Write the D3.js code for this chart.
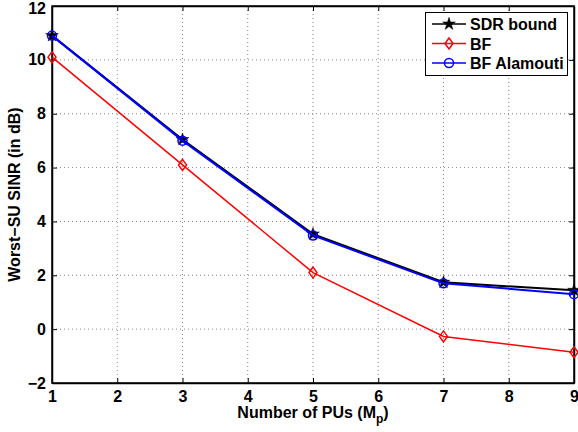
<!DOCTYPE html>
<html><head><meta charset="utf-8">
<script src="https://cdn.jsdelivr.net/npm/d3@7"></script>
<style>body{margin:0;background:#fff}svg{display:block}text{font-family:"Liberation Sans",Arial,sans-serif;font-weight:bold}</style>
</head><body>
<script>
const xValues = [1, 3, 5, 7, 9];
const sdrBound = [10.9, 7.04, 3.53, 1.74, 1.44];
const bf = [10.1, 6.1, 2.1, -0.27, -0.86];
const bfAlamouti = [10.9, 7.0, 3.48, 1.70, 1.30];
const xTicks = [1, 2, 3, 4, 5, 6, 7, 8, 9];
const yTicks = [-2, 0, 2, 4, 6, 8, 10, 12];
const seriesNames = ["SDR bound", "BF", "BF Alamouti"];
const seriesColors = ["#000000", "#ff0000", "#0000ff"];
const seriesMarkers = ["star", "diamond", "circle"];

const W = 578, H = 432;
const m = {l: 52, r: 4, t: 6, b: 49};
const FS = 16;
const svg = d3.select("body").append("svg").attr("width", W).attr("height", H);
const x = d3.scaleLinear().domain([1, 9]).range([m.l, W - m.r]);
const y = d3.scaleLinear().domain([-2, 12]).range([H - m.b, m.t]);

// grid
const g = svg.append("g");
g.selectAll(".gx").data(xTicks.slice(1, -1)).enter().append("line")
  .attr("x1", d => x(d)).attr("x2", d => x(d)).attr("y1", y(-2)).attr("y2", y(12))
  .attr("stroke", "#888").attr("stroke-width", 1).attr("stroke-dasharray", "1,3");
g.selectAll(".gy").data(yTicks.slice(1, -1)).enter().append("line")
  .attr("y1", d => y(d)).attr("y2", d => y(d)).attr("x1", x(1)).attr("x2", x(9))
  .attr("stroke", "#888").attr("stroke-width", 1).attr("stroke-dasharray", "1,3");

// axes
const tl = 5;
const ax = svg.append("g").attr("transform", `translate(0,${y(-2)})`)
  .call(d3.axisBottom(x).tickValues(xTicks).tickSizeInner(-tl).tickSizeOuter(0).tickPadding(8));
const axTop = svg.append("g").attr("transform", `translate(0,${y(12)})`)
  .call(d3.axisTop(x).tickValues(xTicks).tickSizeInner(-tl).tickSizeOuter(0).tickFormat(""));
const ay = svg.append("g").attr("transform", `translate(${x(1)},0)`)
  .call(d3.axisLeft(y).tickValues(yTicks).tickSizeInner(-tl).tickSizeOuter(0).tickPadding(6)
    .tickFormat(d => d < 0 ? "\u2212" + Math.abs(d) : d));
const ayR = svg.append("g").attr("transform", `translate(${x(9)},0)`)
  .call(d3.axisRight(y).tickValues(yTicks).tickSizeInner(-tl).tickSizeOuter(0).tickFormat(""));
[ax, axTop, ay, ayR].forEach(a => {
  a.selectAll("path").attr("stroke", "#000").attr("stroke-width", 1.5);
  a.selectAll("line").attr("stroke", "#000").attr("stroke-width", 1);
  a.selectAll("text").attr("font-size", FS).attr("fill", "#000")
    .style("font-family", "'Liberation Sans', Arial, sans-serif").style("font-weight", "bold");
});
ay.selectAll("text").filter(d => d === 12).attr("dy", "0.45em");
svg.append("rect").attr("x", x(1)).attr("y", y(12)).attr("width", x(9) - x(1)).attr("height", y(-2) - y(12))
  .attr("fill", "none").attr("stroke", "#000").attr("stroke-width", 1.5);

// markers
function drawMarker(sel, type, color, cx, cy) {
  if (type === "star") {
    sel.append("path").attr("d", d3.symbol().type(d3.symbolStar).size(50)())
      .attr("transform", `translate(${cx},${cy})`).attr("fill", color).attr("stroke", color).attr("stroke-width", 0.5);
  } else if (type === "diamond") {
    sel.append("path").attr("d", `M0,-5.5L4,0L0,5.5L-4,0Z`)
      .attr("transform", `translate(${cx},${cy})`).attr("fill", "none").attr("stroke", color).attr("stroke-width", 1.5);
  } else {
    sel.append("circle").attr("cx", cx).attr("cy", cy).attr("r", 4.5)
      .attr("fill", "none").attr("stroke", color).attr("stroke-width", 1.5);
  }
}

const series = [sdrBound, bf, bfAlamouti];
const widths = [2, 1.5, 2];
const line = d3.line().x((d, i) => x(xValues[i])).y(d => y(d));
series.forEach((s, k) => {
  const sg = svg.append("g");
  sg.append("path").datum(s).attr("d", line).attr("fill", "none")
    .attr("stroke", seriesColors[k]).attr("stroke-width", widths[k]);
  s.forEach((v, i) => drawMarker(sg, seriesMarkers[k], seriesColors[k], x(xValues[i]), y(v)));
});

// legend
const lg = svg.append("g");
lg.append("rect").attr("x", 425.5).attr("y", 12.5).attr("width", 142).attr("height", 63)
  .attr("fill", "#fff").attr("stroke", "#000").attr("stroke-width", 1);
seriesNames.forEach((n, k) => {
  const ly = 24 + k * 19.5;
  lg.append("line").attr("x1", 432).attr("x2", 466).attr("y1", ly).attr("y2", ly)
    .attr("stroke", seriesColors[k]).attr("stroke-width", 1.5);
  drawMarker(lg, seriesMarkers[k], seriesColors[k], 449, ly);
  lg.append("text").attr("x", 470).attr("y", ly + 6).attr("font-size", FS).text(n);
});

// axis labels
svg.append("text").attr("x", (x(1) + x(9)) / 2).attr("y", 418).attr("text-anchor", "middle")
  .attr("font-size", FS)
  .html('Number of PUs (M<tspan dy="5" font-size="12">p</tspan><tspan dy="-5">)</tspan>');
svg.append("text").attr("transform", `translate(20,${(y(-2) + y(12)) / 2}) rotate(-90)`)
  .attr("text-anchor", "middle").attr("font-size", FS).text("Worst\u2212SU SINR (in dB)");
</script>
</body></html>
